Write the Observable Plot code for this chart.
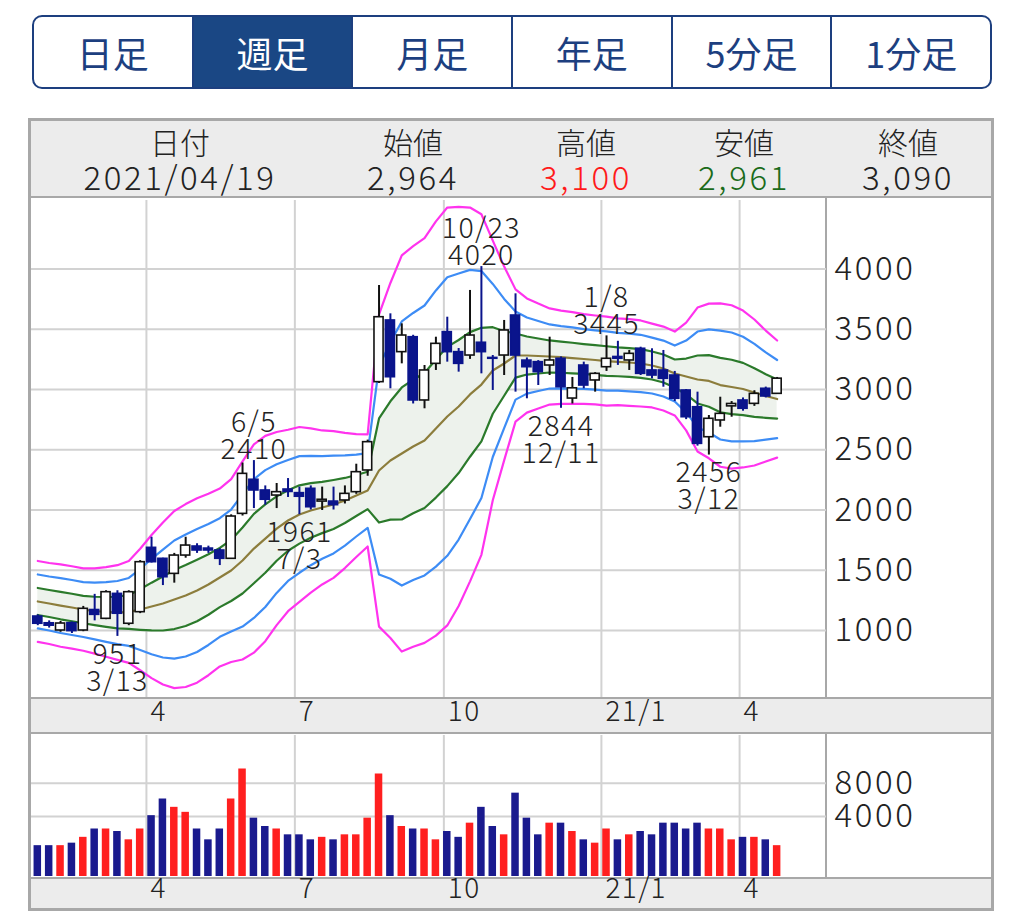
<!DOCTYPE html>
<html><head><meta charset="utf-8">
<script src="https://cdn.jsdelivr.net/npm/d3@7"></script>
<script src="https://cdn.jsdelivr.net/npm/@observablehq/plot@0.6"></script>
<style>
body{margin:0;background:#fff;font-family:"Noto Sans CJK JP","Noto Sans",sans-serif;font-weight:300;}
#root{position:relative;width:1024px;height:913px;overflow:hidden;}
.abs{position:absolute;}
.tabs{left:32px;top:15px;width:960px;height:74px;box-sizing:border-box;border:2px solid #1d3f7f;border-radius:10px;display:flex;overflow:hidden;}
.tab{flex:1;display:flex;align-items:center;justify-content:center;font-size:36px;font-weight:400;color:#1d3f7f;border-left:2px solid #1d3f7f;}
.tab:first-child{border-left:none}
.tab.sel{background:#1a4784;color:#fff}
.frame{left:28px;top:118px;width:966px;height:793px;box-sizing:border-box;border:3px solid #a8a8a8;}
.gray{background:#ececec;}
.hline{height:2px;background:#a8a8a8;}
.vline{width:2px;background:#a8a8a8;}
.hd{font-size:30px;color:#222;text-align:center;width:260px;line-height:1;}
.hv{font-size:33px;letter-spacing:2.6px;}
.dash{width:0;border-left:2px dashed #555;}
#mainChart svg text, #volChart svg text{letter-spacing:1.4px;font-weight:300;}
</style>
</head><body>
<div id="root">
  <div class="abs tabs">
    <div class="tab">日足</div><div class="tab sel">週足</div><div class="tab">月足</div><div class="tab">年足</div><div class="tab">5分足</div><div class="tab">1分足</div>
  </div>
  <div class="abs gray" style="left:28px;top:118px;width:966px;height:79px;"></div>
  <div class="abs gray" style="left:28px;top:698px;width:966px;height:35px;"></div>
  <div class="abs gray" style="left:28px;top:878px;width:966px;height:33px;"></div>
  <div class="abs hline" style="left:28px;top:196px;width:966px;"></div>
  <div class="abs hline" style="left:28px;top:697px;width:966px;"></div>
  <div class="abs hline" style="left:28px;top:732px;width:966px;"></div>
  <div class="abs hline" style="left:28px;top:877px;width:966px;"></div>
  <div class="abs vline" style="left:825px;top:197px;height:501px;"></div>
  <div class="abs vline" style="left:825px;top:733px;height:145px;"></div>
  <div id="hdr"></div>
  <div id="mainChart" class="abs" style="left:28px;top:197px;"></div>
  <div id="volChart" class="abs" style="left:28px;top:733px;"></div>
  <div class="abs dash" style="left:28px;top:199px;height:498px;"></div>
  <div class="abs dash" style="left:28px;top:734px;height:143px;"></div>
  <div class="abs frame"></div>
</div>
<script>
// ---------- header info ----------
const infoLabels = ["日付", "始値", "高値", "安値", "終値"];
const infoValues = ["2021/04/19", "2,964", "3,100", "2,961", "3,090"];
const infoColors = ["#222", "#222", "#ff1a1a", "#1a6b1a", "#222"];
const infoCenters = [180, 413, 586, 744, 908];

// ---------- weekly candles (2020/01/20 .. 2021/04/19) ----------
const open  = [1116,1060,1000,1061,1000,1170,1097,1304,1056,1152,1686,1595,1470,1622,1697,1680,1664,1595,1968,2251,2162,2120,2170,2140,2176,2070,2070,2079,2148,2328,3061,3573,3310,3434,2909,3213,3476,3310,3282,3388,3262,3282,3614,3240,3227,3199,3255,2925,3199,3075,3185,3270,3241,3338,3158,3158,3116,2992,2853,2604,2743,2860,2909,2881,3006,2964];
const high  = [1130,1080,1075,1070,1200,1300,1330,1330,1330,1580,1774,1600,1640,1774,1720,1700,1680,1960,2390,2410,2200,2220,2261,2190,2200,2190,2190,2200,2380,2580,3863,3628,3545,3450,3199,3434,3600,3340,3822,4020,3282,3573,3794,3262,3240,3434,3270,3100,3227,3140,3445,3400,3324,3351,3338,3324,3150,3000,2978,2784,2936,2900,2930,2990,3020,3100];
const low   = [1040,1020,985,975,990,1080,1090,951,1040,1140,1560,1373,1393,1600,1640,1640,1539,1590,1950,2012,2040,2012,2104,1961,2000,1996,2000,2050,2130,2280,3050,3006,3213,2880,2840,3158,3227,3144,3250,3130,2992,3116,2978,2923,3033,3116,2844,2880,3006,2978,3150,3200,3158,3116,3089,3019,2900,2750,2530,2456,2687,2770,2820,2860,2930,2961];
const close = [1056,1040,1058,995,1180,1130,1318,1139,1318,1567,1567,1442,1622,1705,1664,1664,1595,1946,2300,2162,2085,2148,2150,2110,2023,2085,2040,2134,2314,2563,3600,3102,3448,2909,3158,3379,3310,3213,3448,3310,3255,3490,3282,3185,3144,3241,3019,3010,3033,3130,3255,3255,3296,3130,3116,3089,2923,2770,2549,2757,2798,2880,2840,2964,2942,3090];
const volume = [500,500,500,800,1500,2500,2500,2200,1200,2500,4100,6100,5100,4500,2500,1200,2500,6100,9700,3800,2800,2500,1800,1800,1200,1500,1200,1800,1800,3800,9100,4100,2800,2500,2500,1200,2200,1500,3200,5100,2800,1800,6800,3800,1800,3200,3200,2200,1200,800,2500,1200,1800,2200,1800,3200,3200,2500,3200,2500,2500,1200,1500,1500,1200,500];

const bbMid = [1241,1224,1207,1191,1174,1162,1154,1149,1154,1174,1199,1224,1257,1290,1332,1382,1440,1498,1581,1680,1763,1846,1913,1963,1996,2021,2046,2079,2120,2162,2328,2411,2469,2527,2577,2676,2776,2859,2959,3041,3158,3216,3282,3282,3278,3274,3268,3261,3253,3245,3236,3230,3224,3216,3199,3174,3133,3108,3083,3071,3037,3021,3004,2975,2946,2921];
const bbSd  = [112,112,114,114,114,118,124,131,141,168,198,224,245,253,255,251,246,253,274,288,284,267,251,242,227,213,203,187,170,155,432,491,548,554,560,573,578,552,517,471,359,268,183,158,145,133,129,127,124,123,123,120,120,119,116,116,116,149,199,214,226,226,217,202,181,162];

// highs / lows annotations
const hiIdx = [19, 39, 50], hiVal = [2410, 4020, 3445], hiDate = ["6/5", "10/23", "1/8"];
const loIdx = [7, 23, 46, 59], loVal = [951, 1961, 2844, 2456], loDate = ["3/13", "7/3", "12/11", "3/12"];

// axes
const priceTicks = [1000, 1500, 2000, 2500, 3000, 3500, 4000];
const volTicks = [4000, 8000];
const monthTickPos = [9.55, 22.6, 35.7, 49.55, 61.7];
const monthTickLabels = ["4", "7", "10", "21/1", "4"];

// ---------- build ----------
const FONT = '"Noto Sans CJK JP","Noto Sans",sans-serif';
const UP_STROKE = "#111", DOWN = "#0a148c";
const VOL_UP = "#ff1f1f", VOL_DOWN = "#1a1a8e";

const hdr = document.getElementById("hdr");
infoLabels.forEach((lab, k) => {
  const a = document.createElement("div");
  a.className = "abs hd"; a.textContent = lab;
  a.style.left = (infoCenters[k] - 130) + "px"; a.style.top = "126px";
  hdr.appendChild(a);
  const b = document.createElement("div");
  b.className = "abs hd hv"; b.textContent = infoValues[k];
  b.style.left = (infoCenters[k] - 130) + "px"; b.style.top = "160px";
  b.style.color = infoColors[k];
  hdr.appendChild(b);
});

const candles = open.map((o, i) => ({i, open: o, high: high[i], low: low[i], close: close[i], vol: volume[i], up: close[i] >= o}));
const bands = bbMid.map((m, i) => ({i, mid: m, p1: m + bbSd[i], m1: m - bbSd[i], p2: m + 2 * bbSd[i], m2: m - 2 * bbSd[i], p3: m + 3 * bbSd[i], m3: m - 3 * bbSd[i]}));
const highs = hiIdx.map((i, k) => ({i, v: hiVal[k], date: hiDate[k]}));
const lows = loIdx.map((i, k) => ({i, v: loVal[k], date: loDate[k]}));

const xDomain = [-0.642, 69.34];
const grid = {stroke: "#d2d2d2", strokeOpacity: 1, strokeWidth: 2};
const monthFmt = d => monthTickLabels[monthTickPos.indexOf(d)];
const LH = 27;
const annoText = {fontSize: 28.5, fill: "#222"};
const valText = d => String(d.v);

const main = Plot.plot({
  width: 966, height: 536,
  marginLeft: 2, marginRight: 168, marginTop: 3, marginBottom: 36,
  x: {type: "linear", domain: xDomain, label: null},
  y: {type: "linear", domain: [444, 4568.5], label: null},
  color: {type: "identity"},
  style: {background: "transparent", fontFamily: FONT, color: "#222", overflow: "visible"},
  marks: [
    Plot.gridY(priceTicks, grid),
    Plot.gridX(monthTickPos, grid),
    Plot.areaY(bands, {x: "i", y1: "m1", y2: "p1", fill: "#edf2ec"}),
    Plot.line(bands, {x: "i", y: "p3", stroke: "#ff33ee", strokeWidth: 2.2}),
    Plot.line(bands, {x: "i", y: "m3", stroke: "#ff33ee", strokeWidth: 2.2}),
    Plot.line(bands, {x: "i", y: "p2", stroke: "#3d8cf5", strokeWidth: 2.2}),
    Plot.line(bands, {x: "i", y: "m2", stroke: "#3d8cf5", strokeWidth: 2.2}),
    Plot.line(bands, {x: "i", y: "p1", stroke: "#2b7a2b", strokeWidth: 2.2}),
    Plot.line(bands, {x: "i", y: "m1", stroke: "#2b7a2b", strokeWidth: 2.2}),
    Plot.line(bands, {x: "i", y: "mid", stroke: "#8c7d3c", strokeWidth: 2.2}),
    Plot.ruleX(candles, {x: "i", y1: "low", y2: "high", stroke: d => d.up ? UP_STROKE : DOWN, strokeWidth: 2}),
    Plot.rect(candles, {x1: d => d.i - 0.4, x2: d => d.i + 0.4, y1: "open", y2: "close",
      fill: d => d.up ? "#ffffff" : DOWN, stroke: d => d.up ? UP_STROKE : DOWN, strokeWidth: 1.6}),
    // highs: date above value
    Plot.text(highs, {x: "i", y: "v", text: valText, lineAnchor: "bottom", dy: -2, ...annoText}),
    Plot.text(highs, {x: "i", y: "v", text: "date", lineAnchor: "bottom", dy: -2 - LH, ...annoText}),
    // lows: value above date
    Plot.text(lows, {x: "i", y: "v", text: valText, lineAnchor: "top", dy: 7, ...annoText}),
    Plot.text(lows, {x: "i", y: "v", text: "date", lineAnchor: "top", dy: 7 + LH, ...annoText}),
    Plot.axisY({anchor: "right", ticks: priceTicks, tickSize: 0, tickPadding: 8, fontSize: 33,
      tickFormat: d => String(d), fill: "#222", label: null}),
    Plot.axisX({anchor: "bottom", ticks: monthTickPos, tickFormat: monthFmt, tickSize: 0, tickPadding: 4,
      textAnchor: "start", dx: 4, fontSize: 28, fill: "#222", label: null})
  ]
});
document.getElementById("mainChart").appendChild(main);

const vol = Plot.plot({
  width: 966, height: 178,
  marginLeft: 2, marginRight: 168, marginTop: 2, marginBottom: 35,
  x: {type: "linear", domain: xDomain, label: null},
  y: {type: "linear", domain: [-3200, 13720], label: null},
  color: {type: "identity"},
  style: {background: "transparent", fontFamily: FONT, color: "#222", overflow: "visible"},
  marks: [
    Plot.gridY(volTicks, grid),
    Plot.gridX(monthTickPos, grid),
    Plot.rect(candles, {x1: d => d.i - 0.33, x2: d => d.i + 0.33, y1: -3200, y2: "vol",
      fill: d => d.up ? VOL_UP : VOL_DOWN}),
    Plot.axisY({anchor: "right", ticks: volTicks, tickSize: 0, tickPadding: 8, fontSize: 33,
      tickFormat: d => String(d), fill: "#222", label: null}),
    Plot.axisX({anchor: "bottom", ticks: monthTickPos, tickFormat: monthFmt, tickSize: 0, tickPadding: 2,
      textAnchor: "start", dx: 4, fontSize: 28, fill: "#222", label: null})
  ]
});
document.getElementById("volChart").appendChild(vol);

// wider spacing for the right-hand price/volume tick labels
for (const svg of [main, vol]) {
  d3.select(svg).selectAll('[aria-label="y-axis tick label"] text').style("letter-spacing", "2.6px");
}
</script>
</body></html>
